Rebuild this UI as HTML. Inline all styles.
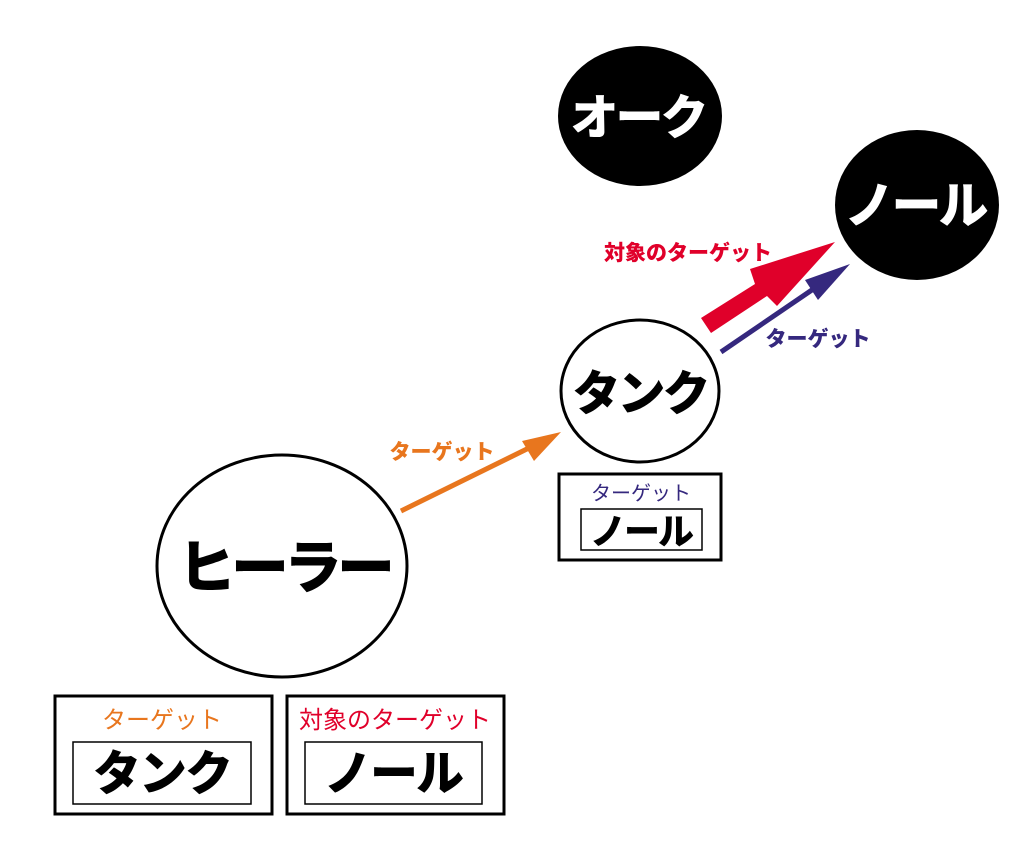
<!DOCTYPE html>
<html><head><meta charset="utf-8"><style>
body{margin:0;background:#fff;width:1024px;height:844px;overflow:hidden}
svg text{font-family:"Noto Sans CJK JP",sans-serif;font-weight:900}
</style></head><body>
<svg width="1024" height="844" viewBox="0 0 1024 844">
<ellipse cx="282" cy="566" rx="125" ry="111" fill="#fff" stroke="#000" stroke-width="3"/>
<text x="284" y="588" font-size="58" text-anchor="middle" letter-spacing="-5">ヒーラー</text>
<ellipse cx="640" cy="391" rx="79" ry="71" fill="#fff" stroke="#000" stroke-width="3"/>
<text x="640" y="410" font-size="48" text-anchor="middle" letter-spacing="-3">タンク</text>
<ellipse cx="640" cy="116" rx="82" ry="70" fill="#000"/>
<text x="638" y="134" font-size="48" text-anchor="middle" fill="#fff" letter-spacing="-3">オーク</text>
<ellipse cx="917" cy="205" rx="82" ry="75" fill="#000"/>
<text x="915" y="223" font-size="50" text-anchor="middle" fill="#fff" letter-spacing="-3">ノール</text>
<line x1="401" y1="511" x2="535" y2="445" stroke="#e8761e" stroke-width="5"/>
<polygon points="561,432 522,441 534,461" fill="#e8761e"/>
<text x="442" y="459" font-size="21" fill="#e8761e" text-anchor="middle">ターゲット</text>
<polygon points="701,318 755,284 750,269 835,242 777,306 767,296 711,333" fill="#e0002a"/>
<text x="688" y="260" font-size="21" fill="#e0002a" text-anchor="middle">対象のターゲット</text>
<line x1="721" y1="352" x2="828" y2="279" stroke="#35287e" stroke-width="5"/>
<polygon points="850,264 805,280 818,300" fill="#35287e"/>
<text x="818" y="346" font-size="21" fill="#35287e" text-anchor="middle">ターゲット</text>
<rect x="559" y="474" width="162" height="86" fill="#fff" stroke="#000" stroke-width="3"/>
<text x="641" y="500" font-size="20" style="font-weight:400" fill="#35287e" text-anchor="middle">ターゲット</text>
<rect x="581" y="509" width="121" height="41" fill="#fff" stroke="#000" stroke-width="1.5"/>
<text x="641" y="544" font-size="36" text-anchor="middle" letter-spacing="-2">ノール</text>
<rect x="55" y="696" width="217" height="118" fill="#fff" stroke="#000" stroke-width="3"/>
<text x="162" y="728" font-size="24" style="font-weight:400" fill="#e8761e" text-anchor="middle">ターゲット</text>
<rect x="73" y="742" width="178" height="62" fill="#fff" stroke="#000" stroke-width="1.5"/>
<text x="162" y="790" font-size="48" text-anchor="middle" letter-spacing="-2">タンク</text>
<rect x="287" y="696" width="217" height="118" fill="#fff" stroke="#000" stroke-width="3"/>
<text x="395" y="728" font-size="24" style="font-weight:400" fill="#e0002a" text-anchor="middle">対象のターゲット</text>
<rect x="305" y="742" width="177" height="62" fill="#fff" stroke="#000" stroke-width="1.5"/>
<text x="393" y="790" font-size="48" text-anchor="middle" letter-spacing="-2">ノール</text>
</svg>
</body></html>
